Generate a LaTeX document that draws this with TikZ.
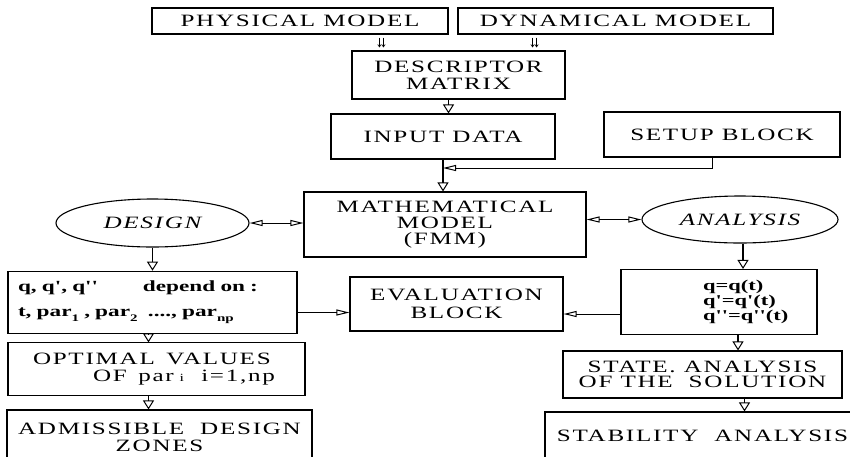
\documentclass[tikz,border=0pt]{standalone}
\usepackage{fontspec}
\usetikzlibrary{arrows.meta,shapes.geometric,calc}
\newfontfamily\wf[FakeStretch=1.45,LetterSpace=10]{Liberation Serif}
\newfontfamily\bq[FakeStretch=1.5]{Liberation Serif}
\newcommand\bigtxt[1][16]{\wf\fontsize{17.3}{#1}\selectfont}
\newcommand\sbs[1]{\raisebox{-0.3em}{\fontsize{10}{10}\selectfont #1}}
\tikzset{
  box/.style={draw, line width=1.1pt, inner sep=0pt, align=center, font=\bigtxt},
  oval/.style={draw, ellipse, line width=1.1pt, inner sep=0pt, font={\bigtxt\itshape}},
  dar/.style={line width=1.1pt, -{Triangle[open,length=9pt,width=11pt,line width=1pt]}},
  har/.style={line width=1pt, -{Triangle[open,length=13pt,width=6pt,line width=1pt]}},
  hboth/.style={line width=1pt, {Triangle[open,length=13pt,width=6pt,line width=1pt]}-{Triangle[open,length=13pt,width=6pt,line width=1pt]}},
  dd/.style={line width=0.6pt, -{Straight Barb[length=2.5pt,width=3.5pt]}, shorten <=3pt, shorten >=3pt},
}
\begin{document}
\begin{tikzpicture}[x=1pt,y=-1pt]
\fill[white] (0,0) rectangle (850,456);
\useasboundingbox (0,0) rectangle (850,456);
\clip (0,0) rectangle (850,456);
\node[box, minimum width=296pt, minimum height=26pt] (phys) at (300,21) {PHYSICAL MODEL};
\node[box, minimum width=315pt, minimum height=26pt] (dyn) at (615.5,21) {DYNAMICAL MODEL};
\node[box, minimum width=213pt, minimum height=48pt, font={\bigtxt[17]}] (desc) at (458.5,75) {DESCRIPTOR\\MATRIX};
\node[box, minimum width=224pt, minimum height=45pt] (input) at (443,136.5) {INPUT DATA};
\node[box, minimum width=236pt, minimum height=45pt] (setup) at (722,134.5) {SETUP BLOCK};
\node[box, minimum width=282pt, minimum height=65pt] (math) at (445,224.5) {MATHEMATICAL\\MODEL\\(FMM)};
\node[oval, minimum width=193pt, minimum height=48pt] (design) at (152.5,223) {DESIGN};
\node[oval, minimum width=196pt, minimum height=47pt] (analysis) at (740,219.5) {ANALYSIS};
\node[draw, line width=1.1pt, inner sep=10pt, minimum width=289pt, minimum height=59pt, text width=269pt, align=left,
      font={\bq\bfseries\fontsize{15.5}{25}\selectfont}] (qbox) at (152.5,302.5)
      {\makebox[125pt][l]{q, q', q''}depend on :\\t, par\sbs{1} , par\sbs{2}\ \ ...., par\sbs{np}};
\node[box, minimum width=213pt, minimum height=54pt, font={\bigtxt[18]}] (eval) at (456.5,304) {EVALUATION\\BLOCK};
\node[draw, line width=1.1pt, inner sep=10pt, minimum width=196pt, minimum height=64pt, text width=176pt, align=left,
      font={\bq\bfseries\fontsize{15}{15}\selectfont}] (qt) at (719,302)
      {\hspace*{72pt}\begin{tabular}{@{}l@{}}q=q(t)\\q'=q'(t)\\q''=q''(t)\end{tabular}};
\node[draw, line width=1.1pt, inner sep=10pt, minimum width=297pt, minimum height=42pt, text width=277pt, align=left,
      font={\bigtxt[17]}] (opt) at (156.5,369)
      {\hspace*{15pt}OPTIMAL\ \ VALUES\\\hspace*{75pt}OF\ \ par{\fontsize{11}{11}\selectfont\ i}\ \ \ i=1,np};
\node[box, minimum width=305pt, minimum height=54pt, font={\bigtxt[17]}] (adm) at (159.5,437) {ADMISSIBLE\ \ DESIGN\\ZONES};
\node[box, minimum width=279pt, minimum height=47pt, font={\bigtxt[15.5]}] (state) at (702.5,374.5) {STATE. ANALYSIS\\OF THE\ \ SOLUTION};
\node[box, minimum width=315pt, minimum height=48pt] (stab) at (702.5,436) {STABILITY\ \ ANALYSIS};
% connectors
\draw[dd] ([xshift=28]desc.north west |- phys.south) -- ([xshift=28]desc.north west);
\draw[dd] ([xshift=32]desc.north west |- phys.south) -- ([xshift=32]desc.north west);
\draw[dd] ([xshift=-33]desc.north east |- dyn.south) -- ([xshift=-33]desc.north east);
\draw[dd] ([xshift=-29]desc.north east |- dyn.south) -- ([xshift=-29]desc.north east);
\draw[dar] ([xshift=-10]desc.south) -- ([xshift=-10]desc.south |- input.north);
\draw[dar] (input.south) -- (input.south |- math.north);
\coordinate (j) at (443,168);
\draw[har] ([xshift=-10]setup.south) |- (j);
\draw[hboth] (design.east) -- (design.east -| math.west);
\draw[hboth] (math.east |- analysis.west) -- (analysis.west);
\draw[dar] (design.south) -- (design.south |- qbox.north);
\draw[dar] ([xshift=3]analysis.south) -- ([xshift=3]analysis.south |- qt.north);
\draw[har] ([yshift=-10]qbox.east) -- ([yshift=-10]qbox.east -| eval.west);
\draw[har] ([yshift=-12]qt.west) -- ([yshift=-12]qt.west -| eval.east);
\draw[dar] ([xshift=-4]qbox.south) -- ([xshift=-4]qbox.south |- opt.north);
\draw[dar] ([xshift=-8]opt.south) -- ([xshift=-8]opt.south |- adm.north);
\draw[dar] ([xshift=19]qt.south) -- ([xshift=19]qt.south |- state.north);
\draw[dar] ([xshift=42]state.south) -- ([xshift=42]state.south |- stab.north);
\end{tikzpicture}
\end{document}
